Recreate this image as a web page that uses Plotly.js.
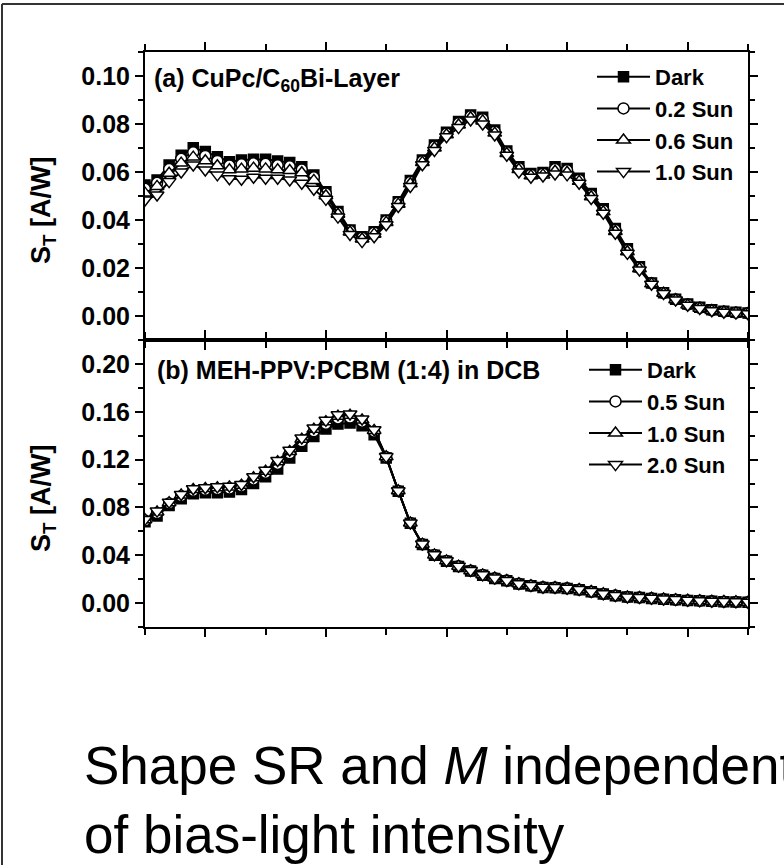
<!DOCTYPE html>
<html>
<head>
<meta charset="utf-8">
<script src="https://cdn.plot.ly/plotly-3.0.1.min.js"></script>
<style>
  html, body { margin: 0; padding: 0; background: #fff; }
  #chart { width: 784px; height: 865px; }
</style>
</head>
<body>
<div id="chart"></div>
<script>
// Wavelength grid (nm)
const wavelength = [350,360,370,380,390,400,410,420,430,440,450,460,470,480,490,500,510,520,530,540,550,560,570,580,590,600,610,620,630,640,650,660,670,680,690,700,710,720,730,740,750,760,770,780,790,800,810,820,830,840,850];

// (a) CuPc/C60 bi-layer, S_T [A/W]
const cupcDark = [0.0546,0.0567,0.0629,0.0670,0.0701,0.0685,0.0664,0.0643,0.0650,0.0653,0.0653,0.0646,0.0640,0.0622,0.0588,0.0518,0.0435,0.0358,0.0330,0.0351,0.0400,0.0476,0.0565,0.0650,0.0713,0.0766,0.0810,0.0838,0.0828,0.0775,0.0688,0.0622,0.0594,0.0598,0.0622,0.0615,0.0574,0.0510,0.0447,0.0365,0.0280,0.0205,0.0138,0.0097,0.0070,0.0050,0.0036,0.0026,0.0020,0.0016,0.0012];
const cupcSun02 = [0.0530,0.0555,0.0612,0.0655,0.0682,0.0667,0.0646,0.0627,0.0632,0.0636,0.0634,0.0628,0.0624,0.0610,0.0578,0.0510,0.0430,0.0355,0.0326,0.0347,0.0396,0.0472,0.0558,0.0645,0.0706,0.0760,0.0803,0.0832,0.0820,0.0768,0.0682,0.0616,0.0589,0.0593,0.0612,0.0607,0.0567,0.0503,0.0440,0.0358,0.0274,0.0201,0.0136,0.0096,0.0069,0.0048,0.0034,0.0024,0.0018,0.0014,0.0011];
const cupcSun06 = [0.0512,0.0540,0.0595,0.0637,0.0662,0.0647,0.0626,0.0609,0.0612,0.0616,0.0613,0.0609,0.0606,0.0597,0.0565,0.0501,0.0424,0.0350,0.0321,0.0341,0.0390,0.0466,0.0551,0.0640,0.0700,0.0755,0.0796,0.0826,0.0813,0.0762,0.0677,0.0610,0.0584,0.0588,0.0603,0.0599,0.0561,0.0497,0.0434,0.0352,0.0268,0.0197,0.0134,0.0095,0.0068,0.0046,0.0032,0.0023,0.0017,0.0013,0.0010];
const cupcSun10 = [0.0483,0.0504,0.0560,0.0600,0.0629,0.0608,0.0588,0.0572,0.0570,0.0578,0.0574,0.0574,0.0567,0.0553,0.0528,0.0486,0.0412,0.0340,0.0310,0.0330,0.0380,0.0456,0.0540,0.0630,0.0690,0.0747,0.0785,0.0817,0.0800,0.0754,0.0670,0.0600,0.0578,0.0583,0.0592,0.0588,0.0553,0.0490,0.0428,0.0345,0.0261,0.0192,0.0132,0.0094,0.0067,0.0045,0.0031,0.0022,0.0016,0.0012,0.0009];

// (b) MEH-PPV:PCBM (1:4) in DCB, S_T [A/W]
const mehDark  = [0.0680,0.0728,0.0817,0.0872,0.0914,0.0922,0.0922,0.0928,0.0950,0.1000,0.1056,0.1122,0.1214,0.1311,0.1394,0.1456,0.1497,0.1506,0.1483,0.1408,0.1214,0.0936,0.0667,0.0490,0.0400,0.0350,0.0306,0.0269,0.0233,0.0206,0.0186,0.0160,0.0144,0.0131,0.0129,0.0122,0.0111,0.0094,0.0076,0.0062,0.0050,0.0046,0.0039,0.0033,0.0028,0.0022,0.0019,0.0015,0.0012,0.0010,0.0006];
const mehSun05 = [0.0690,0.0752,0.0833,0.0894,0.0939,0.0947,0.0952,0.0958,0.0975,0.1034,0.1089,0.1164,0.1252,0.1353,0.1436,0.1499,0.1544,0.1551,0.1517,0.1433,0.1220,0.0938,0.0669,0.0492,0.0402,0.0352,0.0308,0.0270,0.0235,0.0208,0.0188,0.0161,0.0145,0.0132,0.0130,0.0123,0.0112,0.0095,0.0077,0.0063,0.0051,0.0046,0.0040,0.0033,0.0028,0.0022,0.0019,0.0015,0.0012,0.0010,0.0006];
const mehSun10 = [0.0696,0.0762,0.0840,0.0903,0.0950,0.0958,0.0965,0.0971,0.0986,0.1048,0.1103,0.1182,0.1268,0.1370,0.1454,0.1517,0.1563,0.1570,0.1531,0.1444,0.1223,0.0939,0.0669,0.0493,0.0403,0.0353,0.0309,0.0271,0.0236,0.0209,0.0189,0.0162,0.0146,0.0133,0.0131,0.0124,0.0113,0.0096,0.0078,0.0064,0.0051,0.0047,0.0040,0.0034,0.0029,0.0023,0.0020,0.0016,0.0013,0.0011,0.0007];
const mehSun20 = [0.0700,0.0769,0.0844,0.0908,0.0956,0.0964,0.0972,0.0978,0.0992,0.1056,0.1111,0.1192,0.1278,0.1381,0.1464,0.1528,0.1575,0.1581,0.1539,0.1450,0.1225,0.0940,0.0670,0.0494,0.0404,0.0354,0.0309,0.0272,0.0236,0.0209,0.0189,0.0162,0.0146,0.0133,0.0131,0.0124,0.0113,0.0096,0.0078,0.0064,0.0051,0.0047,0.0040,0.0034,0.0029,0.0023,0.0020,0.0016,0.0013,0.0011,0.0007];

const namesA = ['Dark', '0.2 Sun', '0.6 Sun', '1.0 Sun'];
const namesB = ['Dark', '0.5 Sun', '1.0 Sun', '2.0 Sun'];
const panelLabelA = '(a) CuPc/C<sub>60</sub>Bi-Layer';
const panelLabelB = '(b) MEH-PPV:PCBM (1:4) in DCB';
const yTitle = 'S<sub>T</sub> [A/W]';
const caption = 'Shape SR and <i>M</i> independent<br>of bias-light intensity';

const W = 784, H = 865;
const FONT = 'Liberation Sans, Arial, Helvetica, sans-serif';
const px = v => v / W;           // horizontal pixel -> paper
const py = v => (H - v) / H;      // vertical pixel (from top) -> paper

// marker styles: filled square, open circle, open up/down triangles
const styles = [
  {symbol: 'square', color: '#000', size: 10},
  {symbol: 'circle', color: '#fff', size: 11},
  {symbol: 'triangle-up', color: '#fff', size: 12},
  {symbol: 'triangle-down', color: '#fff', size: 12}
];

function makeTrace(y, name, i, xa, ya, leg) {
  const s = styles[i];
  return {
    type: 'scatter', mode: 'lines+markers',
    x: wavelength, y: y, name: name,
    xaxis: xa, yaxis: ya, legend: leg,
    line: {color: '#000', width: 2},
    marker: {symbol: s.symbol, size: s.size, color: s.color,
             line: {color: '#000', width: 1.5}},
    cliponaxis: true
  };
}

const data = [];
[cupcDark, cupcSun02, cupcSun06, cupcSun10].forEach((y, i) =>
  data.push(makeTrace(y, namesA[i], i, 'x', 'y', 'legend')));
[mehDark, mehSun05, mehSun10, mehSun20].forEach((y, i) =>
  data.push(makeTrace(y, namesB[i], i, 'x2', 'y2', 'legend2')));

const tickFont = {family: FONT, size: 25, color: '#000', weight: 'bold'};

function xAxis(anchor) {
  return {
    domain: [px(145), px(748)], range: [350, 850], anchor: anchor,
    showticklabels: false, showgrid: false, zeroline: false,
    tick0: 400, dtick: 100, ticks: 'outside', ticklen: 8, tickwidth: 2, tickcolor: '#000',
    minor: {tick0: 350, dtick: 50, ticks: 'outside', ticklen: 6, tickwidth: 2, tickcolor: '#000', showgrid: false},
    showline: true, linewidth: 2, linecolor: '#000', mirror: 'allticks'
  };
}
function yAxis(anchor, dom, rng, dt, mdt) {
  return {
    domain: dom, range: rng, anchor: anchor,
    showgrid: false, zeroline: false,
    tick0: 0, dtick: dt, tickformat: '.2f',
    ticks: 'outside', ticklen: 8, tickwidth: 2, tickcolor: '#000',
    minor: {tick0: 0, dtick: mdt, ticks: 'outside', ticklen: 5, tickwidth: 2, tickcolor: '#000', showgrid: false},
    showline: true, linewidth: 2, linecolor: '#000', mirror: 'allticks',
    tickfont: tickFont
  };
}

const legendBase = {
  font: {family: FONT, size: 22, color: '#000', weight: 'bold'},
  bgcolor: 'rgba(0,0,0,0)', borderwidth: 0,
  xanchor: 'left', yanchor: 'top', tracegroupgap: 0,
  itemwidth: 53, itemclick: false, itemdoubleclick: false
};

const labelFont = {family: FONT, size: 25, color: '#000', weight: 'bold'};
const titleFont = {family: FONT, size: 27, color: '#000', weight: 'bold'};

const layout = {
  width: W, height: H,
  margin: {l: 0, r: 0, t: 0, b: 0, pad: 0},
  paper_bgcolor: '#fff', plot_bgcolor: '#fff',
  xaxis: xAxis('y'),
  xaxis2: xAxis('y2'),
  yaxis: yAxis('x', [py(340), py(52)], [-0.01, 0.11], 0.02, 0.01),
  yaxis2: yAxis('x2', [py(627), py(340)], [-0.02, 0.22], 0.04, 0.02),
  legend: Object.assign({}, legendBase, {x: px(592), y: py(56)}),
  legend2: Object.assign({}, legendBase, {x: px(584), y: py(349)}),
  annotations: [
    {text: panelLabelA, xref: 'paper', yref: 'paper', x: px(152), y: py(80),
     xanchor: 'left', yanchor: 'middle', showarrow: false, font: labelFont},
    {text: panelLabelB, xref: 'paper', yref: 'paper', x: px(155), y: py(370),
     xanchor: 'left', yanchor: 'middle', showarrow: false, font: labelFont},
    {text: yTitle, xref: 'paper', yref: 'paper', x: px(43), y: py(210), textangle: -90,
     xanchor: 'center', yanchor: 'middle', showarrow: false, font: titleFont},
    {text: yTitle, xref: 'paper', yref: 'paper', x: px(43), y: py(498), textangle: -90,
     xanchor: 'center', yanchor: 'middle', showarrow: false, font: titleFont},
    {text: caption, xref: 'paper', yref: 'paper', x: px(82), y: py(800), align: 'left',
     xanchor: 'left', yanchor: 'middle', showarrow: false,
     font: {family: FONT, size: 53, color: '#000'}}
  ],
  shapes: [
    {type: 'line', xref: 'paper', yref: 'paper', x0: px(2), x1: px(2), y0: 0, y1: py(4),
     line: {color: '#333', width: 2}},
    {type: 'line', xref: 'paper', yref: 'paper', x0: px(2), x1: 1, y0: py(4), y1: py(4),
     line: {color: '#333', width: 2}}
  ],
  showlegend: true
};

Plotly.newPlot('chart', data, layout, {staticPlot: true, displayModeBar: false});
</script>
</body>
</html>
